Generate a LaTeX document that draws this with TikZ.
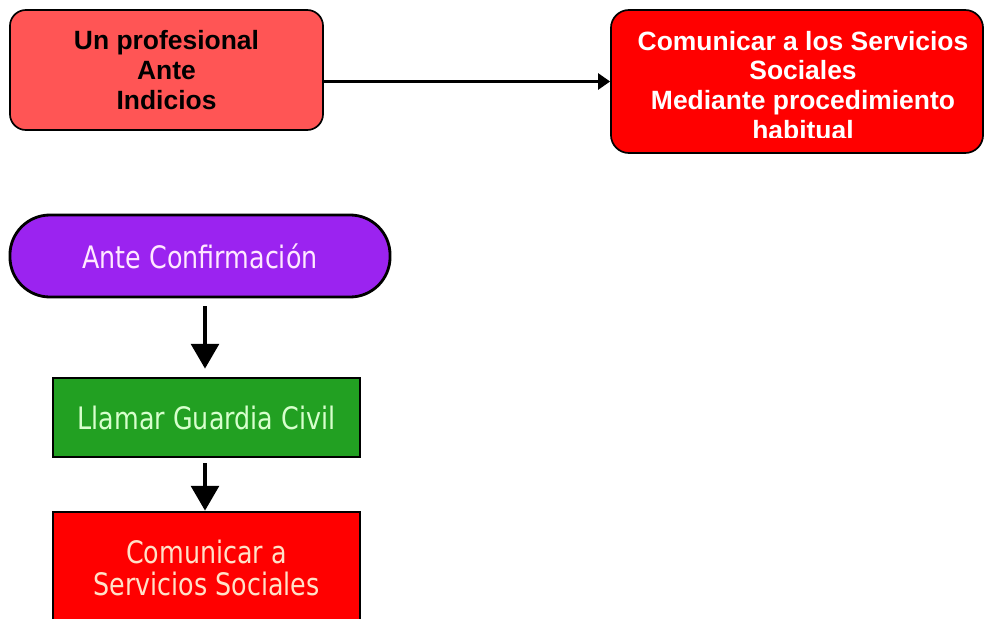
\documentclass[tikz,border=0pt]{standalone}
\usepackage{fontspec}
\setmainfont{Liberation Sans}
\newfontfamily\pixfont[FakeStretch=0.82]{DejaVu Sans}
\usepackage{tikz}
\usetikzlibrary{arrows.meta}
\usetikzlibrary{positioning}

\definecolor{rosa}{RGB}{255,85,85}
\definecolor{rojo}{RGB}{255,0,0}
\definecolor{morado}{RGB}{155,35,240}
\definecolor{verde}{RGB}{34,160,34}
\definecolor{textomorado}{RGB}{255,232,255}
\definecolor{textoverde}{RGB}{215,255,205}
\definecolor{textorojo}{RGB}{255,225,200}

\begin{document}
\begin{tikzpicture}[x=0.025cm,y=-0.025cm,
    caja/.style={draw,line width=1.2pt,rounded corners=0.4cm,align=center,
      font=\bfseries\fontsize{18.8}{21.3}\selectfont},
    bloque/.style={draw,line width=2pt,align=center,text=white,
      font=\pixfont\fontsize{22}{22.8}\selectfont},
    flecha/.style={-{Triangle[length=0.3cm,width=0.4cm]},line width=1.8pt},
    flechagorda/.style={-{Triangle[length=0.62cm,width=0.7cm]},line width=2.2pt}]
   		\useasboundingbox (0,0) rectangle (984,618);
   		% parte de arriba
   		\node[caja,fill=rosa,minimum width=7.825cm,minimum height=3cm] (prof) at (166.5,70) {Un profesional\\Ante\\Indicios};
   		\node[caja,fill=rojo,rounded corners=0.45cm,minimum width=9.3cm,minimum height=3.575cm] (comun) at (797,81.5) {};
   		\begin{scope}
   			\clip (611,10) rectangle (983,137);
   			\node[font=\bfseries\fontsize{18.8}{21.3}\selectfont,align=center,text=white] (comun_t) at (803,85.5) {Comunicar a los Servicios\\Sociales\\Mediante procedimiento\\habitual};
   		\end{scope}
   		\draw[flecha] (prof.east |- comun.west) -- (comun.west);
   		% parte de abajo
   		\node[bloque,fill=morado,text=textomorado,rounded corners=1cm,minimum width=9.5cm,minimum height=2.05cm] (conf) at (200,256) {Ante Confirmación};
   		\node[bloque,fill=verde,text=textoverde,minimum width=7.675cm,minimum height=1.975cm] (guardia) at (206.5,417.5) {Llamar Guardia Civil};
   		\node[bloque,fill=rojo,text=textorojo,minimum width=7.675cm,minimum height=2.8cm] (serv) at (206.5,568) {Comunicar a\\Servicios Sociales};
   		\draw[flechagorda,shorten <=0.2cm,shorten >=0.2cm] (conf.south -| 205,0) -- (guardia.north -| 205,0);
   		\draw[flechagorda,shorten <=0.12cm] (guardia.south -| 205,0) -- (serv.north -| 205,0);
 	\end{tikzpicture}
\end{document}
